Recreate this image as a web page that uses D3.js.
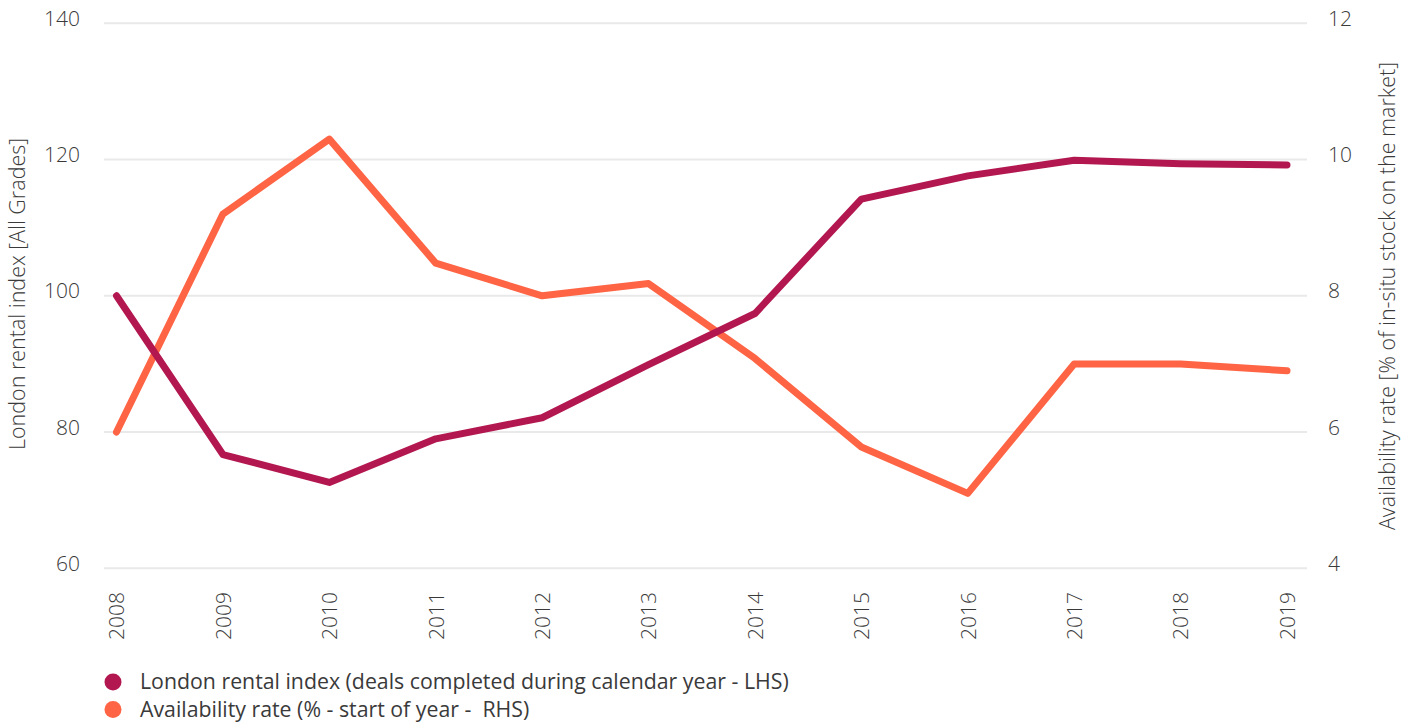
<!DOCTYPE html>
<html><head><meta charset="utf-8">
<script src="https://cdn.jsdelivr.net/npm/d3@7"></script>
<style>
body{margin:0;background:#fff;}
svg text{font-family:"Open Sans",Lato,sans-serif;fill:#3a3a3a;white-space:pre;}
</style></head>
<body><svg id="c" width="1415" height="724"></svg>
<script>
const years = ["2008","2009","2010","2011","2012","2013","2014","2015","2016","2017","2018","2019"];
const rentalIndex = [100, 76.7, 72.6, 79.0, 82.1, 89.9, 97.4, 114.2, 117.6, 119.9, 119.4, 119.2];
const availability = [6.0, 9.2, 10.3, 8.48, 8.0, 8.18, 7.08, 5.78, 5.1, 7.0, 7.0, 6.9];
const leftTicks = [60, 80, 100, 120, 140];
const rightTicks = [4, 6, 8, 10, 12];
const seriesNames = ["London rental index (deals completed during calendar year - LHS)", "Availability rate (% - start of year -  RHS)"];
const colors = ["#B3174F", "#FF6444"];
const leftTitle = "London rental index [All Grades]";
const rightTitle = "Availability rate [% of in-situ stock on the market]";

const FONT = '"Open Sans", Lato, sans-serif';
const FW = 300;
const svg = d3.select("#c");
const x = d3.scalePoint().domain(years).range([116.5, 1287]);
const yL = d3.scaleLinear().domain([60, 140]).range([568.3, 23.3]);
const yR = d3.scaleLinear().domain([4, 12]).range([568.3, 23.3]);

// gridlines
svg.append("g").selectAll("line").data(leftTicks).join("line")
  .attr("x1", 104).attr("x2", 1307)
  .attr("y1", d => yL(d)).attr("y2", d => yL(d))
  .attr("stroke", "#e9e9e9").attr("stroke-width", 2);

function styleText(sel, size, w) {
  sel.attr("font-size", size).style("font-family", FONT).style("font-weight", w || FW).attr("fill", "#3a3a3a");
}

// left axis
const gL = svg.append("g").attr("transform", "translate(80,0)")
  .call(d3.axisLeft(yL).tickValues(leftTicks).tickSize(0).tickPadding(0));
gL.select(".domain").remove();
styleText(gL.selectAll("text").attr("dy", "0.1em"), 21);

// right axis
const gR = svg.append("g").attr("transform", "translate(1328,0)")
  .call(d3.axisRight(yR).tickValues(rightTicks).tickSize(0).tickPadding(0));
gR.select(".domain").remove();
styleText(gR.selectAll("text").attr("dy", "0.1em"), 21);

// x axis
const gX = svg.append("g").attr("transform", "translate(0,592)")
  .call(d3.axisBottom(x).tickSize(0).tickPadding(0));
gX.select(".domain").remove();
styleText(gX.selectAll("text")
  .attr("transform", "rotate(-90)").attr("text-anchor", "end")
  .attr("x", 0).attr("y", 0).attr("dx", 0).attr("dy", "0.35em"), 21);

// axis titles
styleText(svg.append("text").attr("transform", "translate(25,294) rotate(-90)")
  .attr("text-anchor", "middle").text(leftTitle), 21.5);
styleText(svg.append("text").attr("transform", "translate(1395,296) rotate(-90)")
  .attr("text-anchor", "middle").text(rightTitle), 21.5);

// lines
const lineL = d3.line().x((d, i) => x(years[i])).y(d => yL(d));
const lineR = d3.line().x((d, i) => x(years[i])).y(d => yR(d));
svg.append("path").datum(availability).attr("d", lineR)
  .attr("fill", "none").attr("stroke", colors[1]).attr("stroke-width", 7)
  .attr("stroke-linecap", "round").attr("stroke-linejoin", "round");
svg.append("path").datum(rentalIndex).attr("d", lineL)
  .attr("fill", "none").attr("stroke", colors[0]).attr("stroke-width", 7)
  .attr("stroke-linecap", "round").attr("stroke-linejoin", "round");

// legend
const lg = svg.append("g").selectAll("g").data(seriesNames).join("g")
  .attr("transform", (d, i) => `translate(113,${682 + i * 27.5})`);
lg.append("circle").attr("r", 8.5).attr("fill", (d, i) => colors[i]);
styleText(lg.append("text").attr("x", 27).attr("dy", "0.35em").text(d => d), 21.3, 400);
</script></body></html>
